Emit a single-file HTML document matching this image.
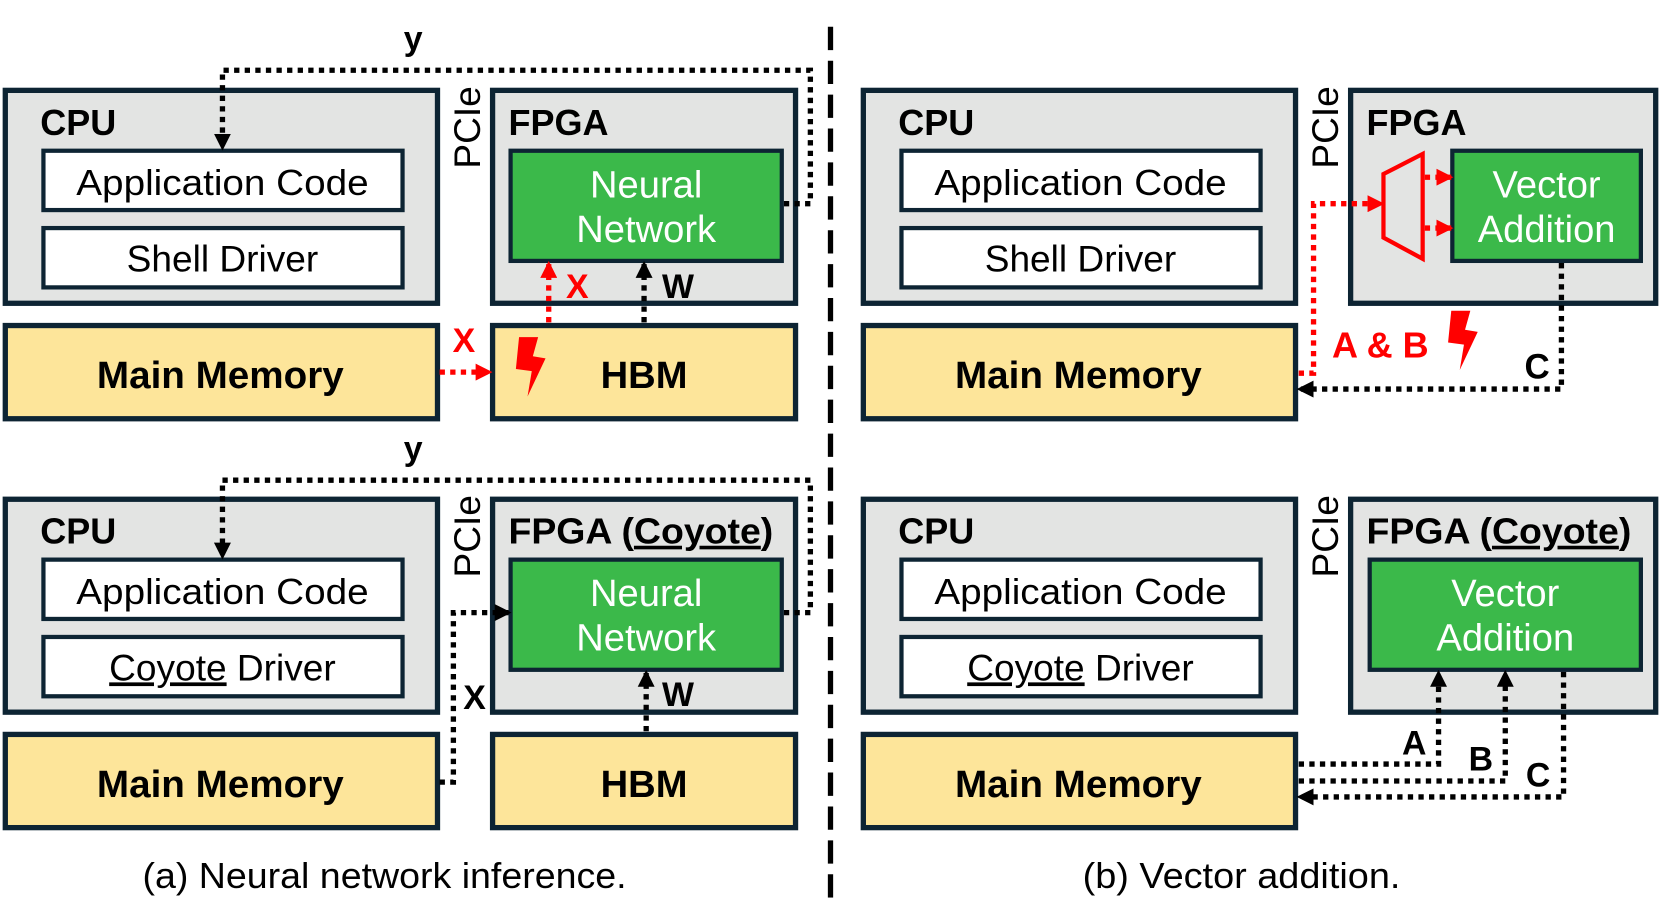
<!DOCTYPE html>
<html><head><meta charset="utf-8"><style>
html,body{margin:0;padding:0;background:#fff;}
svg{display:block;}
text{font-family:"Liberation Sans",Arial,sans-serif;}
.b{font-weight:bold;}
</style></head><body>
<svg width="1661" height="918" viewBox="0 0 1568 866" xmlns="http://www.w3.org/2000/svg">
<defs>
<marker id="ak" markerWidth="16" markerHeight="16" refX="14" refY="8" orient="auto" markerUnits="userSpaceOnUse" viewBox="0 0 16 16"><path d="M0,0 L16,8 L0,16 z" fill="#000"/></marker>
<marker id="ar" markerWidth="16" markerHeight="16" refX="14" refY="8" orient="auto" markerUnits="userSpaceOnUse" viewBox="0 0 16 16"><path d="M0,0 L16,8 L0,16 z" fill="#f00"/></marker>
<g id="bolt"><path d="M-10,-27 L8,-27 L3,-9 L15,-7 L-2,29 L2,5 L-13,3 z" fill="#f00"/></g>
</defs>

<line x1="784" y1="25" x2="784" y2="850" stroke="#000" stroke-width="5" stroke-dasharray="22 10"/>

<!-- ===== top-left ===== -->
<g>
<rect x="5" y="85" width="408" height="201" fill="#e3e4e3" stroke="#0d2433" stroke-width="5"/>
<text x="38" y="127" class="b" font-size="34">CPU</text>
<rect x="41" y="142" width="339" height="56" fill="#fff" stroke="#0d2433" stroke-width="4"/>
<text x="210" y="184" font-size="34" text-anchor="middle" textLength="276" lengthAdjust="spacingAndGlyphs">Application Code</text>
<rect x="41" y="215" width="339" height="56" fill="#fff" stroke="#0d2433" stroke-width="4"/>
<text x="210" y="256" font-size="35" text-anchor="middle">Shell Driver</text>
<text transform="translate(453,120) rotate(-90)" font-size="35" text-anchor="middle">PCIe</text>
<rect x="465" y="85" width="286" height="201" fill="#e3e4e3" stroke="#0d2433" stroke-width="5"/>
<text x="480" y="127" class="b" font-size="34">FPGA</text>
<rect x="482" y="142" width="256" height="104" fill="#3bb94a" stroke="#0d2433" stroke-width="4"/>
<text x="610" y="186" font-size="36" fill="#fff" text-anchor="middle">Neural</text>
<text x="610" y="228" font-size="36" fill="#fff" text-anchor="middle">Network</text>
<rect x="5" y="307" width="408" height="88" fill="#fde59a" stroke="#0d2433" stroke-width="5"/>
<text x="208" y="366" class="b" font-size="36" text-anchor="middle" textLength="233" lengthAdjust="spacingAndGlyphs">Main Memory</text>
<rect x="465" y="307" width="286" height="88" fill="#fde59a" stroke="#0d2433" stroke-width="5"/>
<text x="608" y="366" class="b" font-size="36" text-anchor="middle">HBM</text>
<use href="#bolt" x="500" y="345"/>
<path d="M415,351 L463,351" stroke="#f00" stroke-width="5" stroke-dasharray="5 5" fill="none" marker-end="url(#ar)"/>
<text x="438" y="332" class="b" font-size="32" fill="#f00" text-anchor="middle">X</text>
<path d="M518,304 L518,248" stroke="#f00" stroke-width="5" stroke-dasharray="5 5" fill="none" marker-end="url(#ar)"/>
<text x="545" y="281" class="b" font-size="32" fill="#f00" text-anchor="middle">X</text>
<path d="M608,304 L608,248" stroke="#000" stroke-width="5" stroke-dasharray="5 5" fill="none" marker-end="url(#ak)"/>
<text x="640" y="281" class="b" font-size="32" text-anchor="middle">W</text>
<path d="M740,192 L765,192 L765,66 L210,66 L210,140" stroke="#000" stroke-width="5" stroke-dasharray="5 5" fill="none" marker-end="url(#ak)"/>
<text x="390" y="47" class="b" font-size="32" text-anchor="middle">y</text>
</g>

<!-- ===== bottom-left ===== -->
<g>
<rect x="5" y="471" width="408" height="201" fill="#e3e4e3" stroke="#0d2433" stroke-width="5"/>
<text x="38" y="513" class="b" font-size="34">CPU</text>
<rect x="41" y="528" width="339" height="56" fill="#fff" stroke="#0d2433" stroke-width="4"/>
<text x="210" y="570" font-size="34" text-anchor="middle" textLength="276" lengthAdjust="spacingAndGlyphs">Application Code</text>
<rect x="41" y="601" width="339" height="56" fill="#fff" stroke="#0d2433" stroke-width="4"/>
<text x="210" y="642" font-size="35" text-anchor="middle"><tspan text-decoration="underline">Coyote</tspan> Driver</text>
<text transform="translate(453,506) rotate(-90)" font-size="35" text-anchor="middle">PCIe</text>
<rect x="465" y="471" width="286" height="201" fill="#e3e4e3" stroke="#0d2433" stroke-width="5"/>
<text x="480" y="513" class="b" font-size="34" textLength="250" lengthAdjust="spacingAndGlyphs">FPGA (<tspan text-decoration="underline">Coyote</tspan>)</text>
<rect x="482" y="528" width="256" height="104" fill="#3bb94a" stroke="#0d2433" stroke-width="4"/>
<text x="610" y="572" font-size="36" fill="#fff" text-anchor="middle">Neural</text>
<text x="610" y="614" font-size="36" fill="#fff" text-anchor="middle">Network</text>
<rect x="5" y="693" width="408" height="88" fill="#fde59a" stroke="#0d2433" stroke-width="5"/>
<text x="208" y="752" class="b" font-size="36" text-anchor="middle" textLength="233" lengthAdjust="spacingAndGlyphs">Main Memory</text>
<rect x="465" y="693" width="286" height="88" fill="#fde59a" stroke="#0d2433" stroke-width="5"/>
<text x="608" y="752" class="b" font-size="36" text-anchor="middle">HBM</text>
<path d="M415,738 L428,738 L428,578 L481,578" stroke="#000" stroke-width="5" stroke-dasharray="5 5" fill="none" marker-end="url(#ak)"/>
<text x="448" y="669" class="b" font-size="32" text-anchor="middle">X</text>
<path d="M610,690 L610,634" stroke="#000" stroke-width="5" stroke-dasharray="5 5" fill="none" marker-end="url(#ak)"/>
<text x="640" y="666" class="b" font-size="32" text-anchor="middle">W</text>
<path d="M740,578 L765,578 L765,453 L210,453 L210,526" stroke="#000" stroke-width="5" stroke-dasharray="5 5" fill="none" marker-end="url(#ak)"/>
<text x="390" y="434" class="b" font-size="32" text-anchor="middle">y</text>
</g>

<!-- ===== top-right ===== -->
<g>
<rect x="815" y="85" width="408" height="201" fill="#e3e4e3" stroke="#0d2433" stroke-width="5"/>
<text x="848" y="127" class="b" font-size="34">CPU</text>
<rect x="851" y="142" width="339" height="56" fill="#fff" stroke="#0d2433" stroke-width="4"/>
<text x="1020" y="184" font-size="34" text-anchor="middle" textLength="276" lengthAdjust="spacingAndGlyphs">Application Code</text>
<rect x="851" y="215" width="339" height="56" fill="#fff" stroke="#0d2433" stroke-width="4"/>
<text x="1020" y="256" font-size="35" text-anchor="middle">Shell Driver</text>
<text transform="translate(1263,120) rotate(-90)" font-size="35" text-anchor="middle">PCIe</text>
<rect x="1275" y="85" width="288" height="201" fill="#e3e4e3" stroke="#0d2433" stroke-width="5"/>
<text x="1290" y="127" class="b" font-size="34">FPGA</text>
<rect x="1371" y="142" width="178" height="104" fill="#3bb94a" stroke="#0d2433" stroke-width="4"/>
<text x="1460" y="186" font-size="36" fill="#fff" text-anchor="middle">Vector</text>
<text x="1460" y="228" font-size="36" fill="#fff" text-anchor="middle">Addition</text>
<path d="M1343,145 L1343,244 L1306,224 L1306,164 z" fill="none" stroke="#f00" stroke-width="4"/>
<path d="M1345,167 L1370,167" stroke="#f00" stroke-width="5" stroke-dasharray="5 5" fill="none" marker-end="url(#ar)"/>
<path d="M1345,215 L1370,215" stroke="#f00" stroke-width="5" stroke-dasharray="5 5" fill="none" marker-end="url(#ar)"/>
<rect x="815" y="307" width="408" height="88" fill="#fde59a" stroke="#0d2433" stroke-width="5"/>
<text x="1018" y="366" class="b" font-size="36" text-anchor="middle" textLength="233" lengthAdjust="spacingAndGlyphs">Main Memory</text>
<path d="M1226,352 L1240,352 L1240,192 L1305,192" stroke="#f00" stroke-width="5" stroke-dasharray="5 5" fill="none" marker-end="url(#ar)"/>
<path d="M1474,248 L1474,367 L1226,367" stroke="#000" stroke-width="5" stroke-dasharray="5 5" fill="none" marker-end="url(#ak)"/>
<text x="1303" y="337" class="b" font-size="34" fill="#f00" text-anchor="middle">A &amp; B</text>
<use href="#bolt" x="1380" y="320"/>
<text x="1451" y="357" class="b" font-size="33" text-anchor="middle">C</text>
</g>

<!-- ===== bottom-right ===== -->
<g>
<rect x="815" y="471" width="408" height="201" fill="#e3e4e3" stroke="#0d2433" stroke-width="5"/>
<text x="848" y="513" class="b" font-size="34">CPU</text>
<rect x="851" y="528" width="339" height="56" fill="#fff" stroke="#0d2433" stroke-width="4"/>
<text x="1020" y="570" font-size="34" text-anchor="middle" textLength="276" lengthAdjust="spacingAndGlyphs">Application Code</text>
<rect x="851" y="601" width="339" height="56" fill="#fff" stroke="#0d2433" stroke-width="4"/>
<text x="1020" y="642" font-size="35" text-anchor="middle"><tspan text-decoration="underline">Coyote</tspan> Driver</text>
<text transform="translate(1263,506) rotate(-90)" font-size="35" text-anchor="middle">PCIe</text>
<rect x="1275" y="471" width="288" height="201" fill="#e3e4e3" stroke="#0d2433" stroke-width="5"/>
<text x="1290" y="513" class="b" font-size="34" textLength="250" lengthAdjust="spacingAndGlyphs">FPGA (<tspan text-decoration="underline">Coyote</tspan>)</text>
<rect x="1293" y="528" width="256" height="104" fill="#3bb94a" stroke="#0d2433" stroke-width="4"/>
<text x="1421" y="572" font-size="36" fill="#fff" text-anchor="middle">Vector</text>
<text x="1421" y="614" font-size="36" fill="#fff" text-anchor="middle">Addition</text>
<rect x="815" y="693" width="408" height="88" fill="#fde59a" stroke="#0d2433" stroke-width="5"/>
<text x="1018" y="752" class="b" font-size="36" text-anchor="middle" textLength="233" lengthAdjust="spacingAndGlyphs">Main Memory</text>
<path d="M1226,721 L1358,721 L1358,634" stroke="#000" stroke-width="5" stroke-dasharray="5 5" fill="none" marker-end="url(#ak)"/>
<path d="M1226,737 L1421,737 L1421,634" stroke="#000" stroke-width="5" stroke-dasharray="5 5" fill="none" marker-end="url(#ak)"/>
<path d="M1476,634 L1476,752 L1226,752" stroke="#000" stroke-width="5" stroke-dasharray="5 5" fill="none" marker-end="url(#ak)"/>
<text x="1335" y="712" class="b" font-size="32" text-anchor="middle">A</text>
<text x="1398" y="727" class="b" font-size="32" text-anchor="middle">B</text>
<text x="1452" y="742" class="b" font-size="32" text-anchor="middle">C</text>
</g>

<text x="363" y="838" font-size="34" text-anchor="middle" textLength="457" lengthAdjust="spacingAndGlyphs">(a) Neural network inference.</text>
<text x="1172" y="838" font-size="34" text-anchor="middle" textLength="300" lengthAdjust="spacingAndGlyphs">(b) Vector addition.</text>
</svg>
</body></html>
